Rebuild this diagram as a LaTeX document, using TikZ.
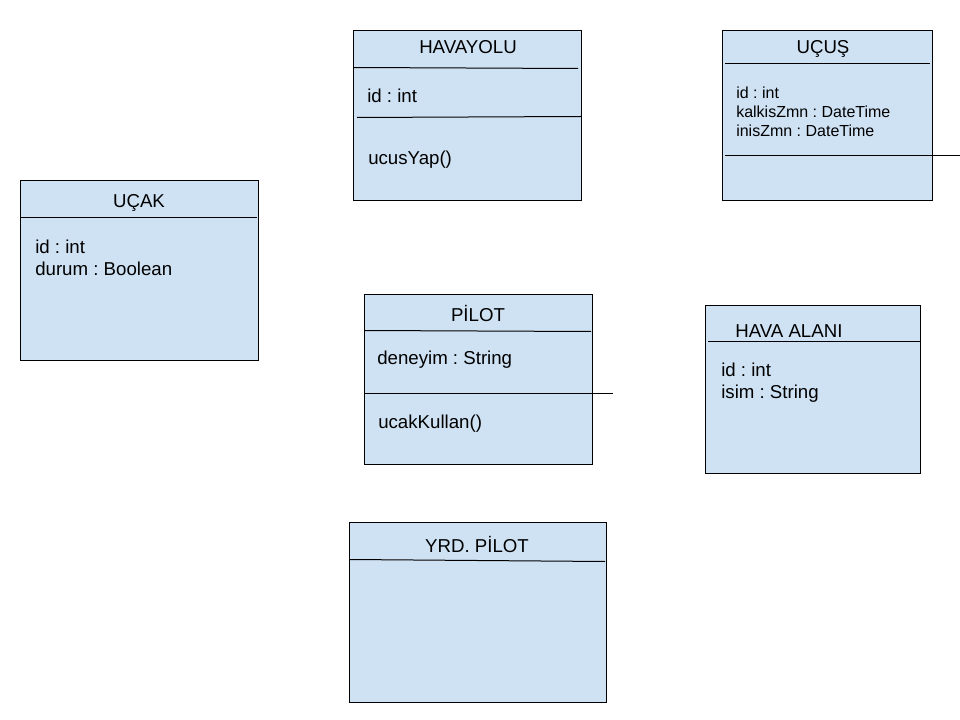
\documentclass[tikz,border=0pt]{standalone}
\usepackage{fontspec}
\setmainfont{Liberation Sans}
\usepackage{tikz}
\frenchspacing

\begin{document}
\begin{tikzpicture} [x=0.75pt,y=-0.75pt]
    % colours and styles %
    \definecolor{classblue}{RGB}{207,226,243}
    \tikzset{
      classbox/.style={draw=black, fill=classblue, line width=0.8pt},
      divider/.style={draw=black, line width=0.75pt},
      title/.style={anchor=base, inner sep=0pt, font=\fontsize{14}{17}\selectfont},
      member/.style={anchor=base west, inner sep=0pt, font=\fontsize{14}{17}\selectfont},
      smallmember/.style={anchor=base west, inner sep=0pt, font=\fontsize{12}{14}\selectfont}
    }
    \useasboundingbox (0,0) rectangle (960,720);

    % UCAK %
    \draw [classbox] (20.5,180.5) rectangle (258.5,360.5);
    \draw [divider] (21,217.5) -- (257,217.5);
    \node [title] (ucakT) at (139,208) {UÇAK};
    \node [member] (ucakId) at (35,254) {id : int};
    \node [member] (ucakDurum) at (35,276) {durum : Boolean};

    % HAVAYOLU %
    \draw [classbox] (353.5,30.5) rectangle (581.5,200.5);
    \draw [divider] (353,67.5) -- (578,68.5);
    \draw [divider] (357,117.5) -- (581,116.5);
    \node [title] (havayoluT) at (468,54) {HAVAYOLU};
    \node [member] (havayoluId) at (367,103) {id : int};
    \node [member] (havayoluUcus) at (368,165) {ucusYap()};

    % UCUS %
    \draw [classbox] (722.5,30.5) rectangle (932.5,200.5);
    \draw [divider] (725,63.5) -- (930,63.5);
    \draw [divider] (725,155.5) -- (960,155.5);
    \node [title] (ucusT) at (823,54) {UÇUŞ};
    \node [smallmember] (ucusId) at (736,99) {id : int};
    \node [smallmember] (ucusKalkis) at (736,118) {kalkisZmn : DateTime};
    \node [smallmember] (ucusInis) at (736,137) {inisZmn : DateTime};

    % PILOT %
    \draw [classbox] (364.5,294.5) rectangle (592.5,464.5);
    \draw [divider] (364,330.5) -- (591,331.5);
    \draw [divider] (364,393.5) -- (613,393.5);
    \node [title] (pilotT) at (478,321) {PİLOT};
    \node [member] (pilotDeneyim) at (377,364) {deneyim : String};
    \node [member] (pilotUcak) at (378,428) {ucakKullan()};

    % HAVA ALANI %
    \draw [classbox] (705.5,305.5) rectangle (920.5,473.5);
    \draw [divider] (708,341.5) -- (921,341.5);
    \node [member] (alanT) at (735,337) {HAVA ALANI};
    \node [member] (alanId) at (721,376) {id : int};
    \node [member] (alanIsim) at (721,398) {isim : String};

    % YRD. PILOT %
    \draw [classbox] (349.5,522.5) rectangle (606.5,702.5);
    \draw [divider] (350,559.5) -- (605,561.5);
    \node [title] (yrdT) at (477,552) {YRD. PİLOT};
\end{tikzpicture}
\end{document}
